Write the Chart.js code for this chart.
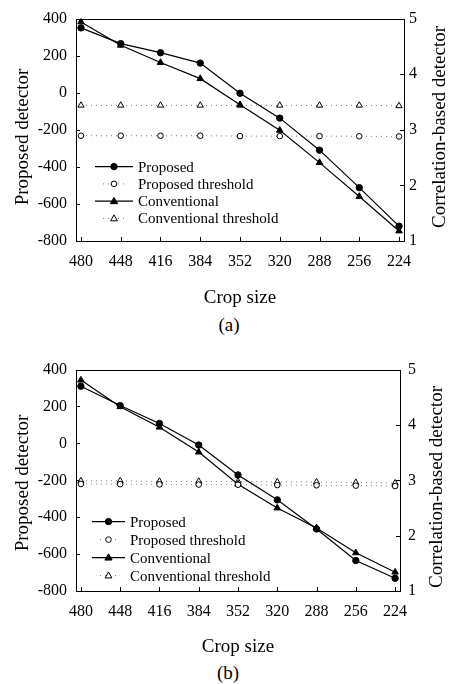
<!DOCTYPE html>
<html>
<head>
<meta charset="utf-8">
<script src="https://cdn.jsdelivr.net/npm/chart.js@4.4.0/dist/chart.umd.min.js"></script>
<style>
body { margin: 0; background: #fff; width: 449px; height: 684px; position: relative; overflow: hidden; }
canvas { position: absolute; left: 0; }
.cap { position: absolute; width: 40px; text-align: center; font: 19px "Liberation Serif", serif; color: #000; line-height: 22px; }
</style>
</head>
<body>
<canvas id="chartA" width="449" height="310" style="top:0px;width:449px;height:310px"></canvas>
<div class="cap" style="left:209px;top:314px">(a)</div>
<canvas id="chartB" width="449" height="310" style="top:351px;width:449px;height:310px"></canvas>
<div class="cap" style="left:208px;top:662px">(b)</div>
<script>
const cropSizes = [480, 448, 416, 384, 352, 320, 288, 256, 224];
const leftTicks = [-800, -600, -400, -200, 0, 200, 400];
const rightTicks = [1, 2, 3, 4, 5];
const seriesNames = ['Proposed', 'Proposed threshold', 'Conventional', 'Conventional threshold'];

// (a)
const proposedA = [350, 265, 216, 160, -3, -137, -310, -512, -720];
const proposedThrA = [-232, -232, -232, -232, -234, -234, -234, -235, -236];
const conventionalA = [4.94, 4.52, 4.21, 3.92, 3.45, 2.99, 2.41, 1.80, 1.18];
const conventionalThrA = [3.44, 3.44, 3.44, 3.44, 3.44, 3.44, 3.44, 3.44, 3.43];

// (b)
const proposedB = [310, 205, 108, -9, -171, -306, -464, -635, -731];
const proposedThrB = [-220, -221, -222, -223, -224, -226, -227, -229, -231];
const conventionalB = [4.81, 4.33, 3.96, 3.51, 2.93, 2.50, 2.14, 1.69, 1.34];
const conventionalThrB = [2.99, 2.99, 2.98, 2.98, 2.98, 2.97, 2.97, 2.96, 2.95];

const FONT = '"Liberation Serif", serif';
Chart.defaults.font.family = FONT;
Chart.defaults.color = '#000';

function pts(vals) {
  return cropSizes.map((c, i) => ({ x: c, y: vals[i] }));
}

function drawMarker(ctx, style, x, y, r, filled) {
  ctx.beginPath();
  if (style === 'triangle') {
    ctx.moveTo(x, y - r);
    ctx.lineTo(x + r * 0.95, y + r * 0.65);
    ctx.lineTo(x - r * 0.95, y + r * 0.65);
    ctx.closePath();
  } else {
    ctx.arc(x, y, r, 0, Math.PI * 2);
  }
  ctx.fillStyle = filled ? '#000' : '#fff';
  ctx.fill();
  ctx.lineWidth = 1;
  ctx.strokeStyle = '#000';
  ctx.setLineDash([]);
  ctx.stroke();
}

// frame, inward ticks, vertical titles and the legend inside the plot
const paperPlugin = {
  id: 'paper',
  beforeDatasetsDraw(chart, args, opts) {
    const { ctx, chartArea: a, scales } = chart;
    ctx.save();
    ctx.strokeStyle = '#000';
    ctx.lineWidth = 1;
    ctx.strokeRect(Math.round(a.left) + 0.5, Math.round(a.top) + 0.5,
      Math.round(a.right - a.left), Math.round(a.bottom - a.top));
    ctx.beginPath();
    scales.x.ticks.forEach(t => {
      const px = Math.round(scales.x.getPixelForValue(t.value)) + 0.5;
      ctx.moveTo(px, a.bottom); ctx.lineTo(px, a.bottom - 4);
    });
    scales.y.ticks.forEach(t => {
      const py = Math.round(scales.y.getPixelForValue(t.value)) + 0.5;
      ctx.moveTo(a.left, py); ctx.lineTo(a.left + 4, py);
    });
    scales.y1.ticks.forEach(t => {
      const py = Math.round(scales.y1.getPixelForValue(t.value)) + 0.5;
      ctx.moveTo(a.right, py); ctx.lineTo(a.right - 4, py);
    });
    ctx.stroke();
    ctx.restore();
  },
  afterDraw(chart, args, opts) {
    const { ctx, chartArea: a } = chart;
    ctx.save();
    ctx.fillStyle = '#000';
    ctx.font = '19px ' + FONT;
    ctx.textAlign = 'center';
    ctx.textBaseline = 'middle';
    ctx.save();
    ctx.translate(opts.leftTitleX, opts.leftTitleY);
    ctx.rotate(-Math.PI / 2);
    ctx.fillText('Proposed detector', 0, 0);
    ctx.restore();
    ctx.save();
    ctx.translate(opts.rightTitleX, opts.rightTitleY);
    ctx.rotate(-Math.PI / 2);
    ctx.fillText('Correlation-based detector', 0, 0);
    ctx.restore();

    // legend
    const lg = opts.legend;
    ctx.font = '15px ' + FONT;
    ctx.textAlign = 'left';
    chart.data.datasets.forEach((ds, i) => {
      const y = a.top + lg.y + i * lg.row;
      const x0 = a.left + lg.x;
      const mid = x0 + lg.len / 2;
      ctx.beginPath();
      ctx.strokeStyle = ds.borderColor;
      ctx.lineWidth = ds.borderWidth;
      if (ds.borderDash && ds.borderDash.length) {
        ctx.setLineDash(ds.borderDash);
        ctx.moveTo(x0 + 8, y); ctx.lineTo(x0 + lg.len - 8, y);
      } else {
        ctx.setLineDash([]);
        ctx.moveTo(x0, y); ctx.lineTo(x0 + lg.len, y);
      }
      ctx.stroke();
      drawMarker(ctx, ds.pointStyle, mid, y, ds.pointRadius, ds.pointBackgroundColor === '#000');
      ctx.fillStyle = '#000';
      ctx.fillText(ds.label, a.left + lg.text, y + 1);
    });
    ctx.restore();
  }
};

function makeChart(id, prop, propThr, conv, convThr, cfg) {
  const dotted = [1, 4];
  const datasets = [
    { label: seriesNames[0], data: pts(prop), yAxisID: 'y', borderColor: '#000', borderWidth: 1.2,
      pointStyle: 'circle', pointRadius: 3.2, pointBackgroundColor: '#000', pointBorderColor: '#000', pointBorderWidth: 1 },
    { label: seriesNames[1], data: pts(propThr), yAxisID: 'y', borderColor: '#777', borderWidth: 1, borderDash: dotted,
      pointStyle: 'circle', pointRadius: 2.8, pointBackgroundColor: '#fff', pointBorderColor: '#000', pointBorderWidth: 1 },
    { label: seriesNames[2], data: pts(conv), yAxisID: 'y1', borderColor: '#000', borderWidth: 1.2,
      pointStyle: 'triangle', pointRadius: 3.8, pointBackgroundColor: '#000', pointBorderColor: '#000', pointBorderWidth: 1 },
    { label: seriesNames[3], data: pts(convThr), yAxisID: 'y1', borderColor: '#777', borderWidth: 1, borderDash: dotted,
      pointStyle: 'triangle', pointRadius: 3.6, pointBackgroundColor: '#fff', pointBorderColor: '#000', pointBorderWidth: 1 }
  ];
  const noGrid = { display: false, drawTicks: false };
  return new Chart(document.getElementById(id), {
    type: 'line',
    data: { datasets },
    options: {
      responsive: false,
      animation: false,
      devicePixelRatio: 1,
      layout: { padding: { top: 11, left: 0, right: 0, bottom: 0 } },
      plugins: {
        legend: { display: false },
        tooltip: { enabled: false },
        paper: cfg.paper
      },
      scales: {
        x: {
          type: 'linear', reverse: true, min: 220, max: 484,
          afterBuildTicks: s => { s.ticks = cropSizes.map(v => ({ value: v })); },
          afterFit: s => { s.height = cfg.xHeight; },
          grid: noGrid, border: { display: false },
          ticks: { font: { size: 16, family: FONT }, padding: 11, maxRotation: 0, autoSkip: false, callback: v => String(v) },
          title: { display: true, text: 'Crop size', font: { size: 19, lineHeight: 1, family: FONT }, padding: { top: 0, bottom: cfg.xTitlePad } }
        },
        y: {
          position: 'left', min: -800, max: 400,
          afterBuildTicks: s => { s.ticks = leftTicks.map(v => ({ value: v })); },
          afterFit: s => { s.width = 76; },
          grid: noGrid, border: { display: false },
          ticks: { font: { size: 16, family: FONT }, padding: 9 }
        },
        y1: {
          position: 'right', min: 1, max: 5,
          afterBuildTicks: s => { s.ticks = rightTicks.map(v => ({ value: v })); },
          afterFit: s => { s.width = cfg.rightWidth; },
          grid: noGrid, border: { display: false },
          ticks: { font: { size: 16, family: FONT }, padding: cfg.rightPad }
        }
      }
    },
    plugins: [paperPlugin]
  });
}

makeChart('chartA', proposedA, proposedThrA, conventionalA, conventionalThrA, {
  xHeight: 69, xTitlePad: 2.5, rightWidth: 45, rightPad: 5,
  paper: { leftTitleX: 23, leftTitleY: 137, rightTitleX: 440, rightTitleY: 127,
    legend: { x: 19, len: 38, text: 62, y: 148, row: 17.3 } }
});

makeChart('chartB', proposedB, proposedThrB, conventionalB, conventionalThrB, {
  xHeight: 70, xTitlePad: 4.5, rightWidth: 49, rightPad: 8,
  paper: { leftTitleX: 23, leftTitleY: 132, rightTitleX: 437, rightTitleY: 136,
    legend: { x: 16, len: 33, text: 54, y: 152, row: 18 } }
});
</script>
</body>
</html>
